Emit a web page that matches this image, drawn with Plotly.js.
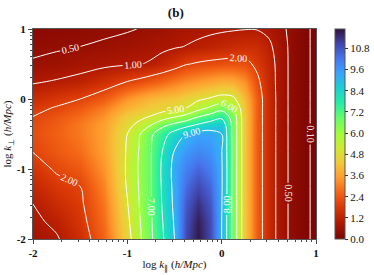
<!DOCTYPE html>
<html>
<head>
<meta charset="utf-8">
<script src="https://cdn.plot.ly/plotly-3.0.1.min.js"></script>
<style>html,body{margin:0;padding:0;background:#fff;}#chart{width:374px;height:275px;}</style>
</head>
<body>
<div id="chart"></div>
<script>
// log k_parallel (x) and log k_perp (y) sample positions
var logKpar = [-2, -1.75, -1.5, -1.25, -1, -0.875, -0.75, -0.625, -0.5, -0.375, -0.25, -0.125, 0, 0.125, 0.25, 0.375, 0.5, 0.625, 0.75, 0.875, 1];
var logKperp = [-2, -1.75, -1.5, -1.25, -1, -0.75, -0.5, -0.375, -0.25, -0.125, 0, 0.25, 0.5, 0.75, 1];

// values, one row per log k_perp
var row_m2_00 = [0.70, 0.93, 1.50, 2.60, 4.60, 5.80, 6.85, 7.90, 9.00, 11.0, 11.8, 11.0, 9.00, 6.65, 4.30, 2.50, 1.40, 0.72, 0.37, 0.15, 0.05];
var row_m1_75 = [0.85, 1.15, 1.70, 2.75, 4.80, 5.90, 6.90, 8.00, 9.10, 10.9, 11.7, 11.0, 9.00, 6.65, 4.30, 2.50, 1.40, 0.72, 0.37, 0.15, 0.05];
var row_m1_50 = [1.00, 1.45, 1.85, 2.90, 4.95, 6.00, 6.95, 8.10, 9.20, 10.7, 11.4, 10.8, 9.05, 6.65, 4.30, 2.50, 1.40, 0.72, 0.37, 0.15, 0.05];
var row_m1_25 = [1.30, 1.75, 2.00, 3.10, 5.10, 6.05, 6.95, 8.15, 9.25, 10.4, 11.0, 10.5, 9.10, 6.65, 4.30, 2.50, 1.40, 0.72, 0.37, 0.15, 0.05];
var row_m1_00 = [1.65, 2.10, 2.40, 3.35, 5.15, 6.10, 6.95, 8.20, 9.30, 10.0, 10.5, 10.1, 9.10, 6.65, 4.30, 2.50, 1.40, 0.72, 0.37, 0.15, 0.05];
var row_m0_75 = [2.02, 2.40, 2.75, 3.55, 5.10, 6.05, 6.95, 8.05, 9.05, 9.60, 9.90, 9.70, 9.05, 6.65, 4.30, 2.50, 1.40, 0.72, 0.37, 0.15, 0.05];
var row_m0_50 = [2.20, 2.55, 2.95, 3.60, 5.00, 5.90, 6.85, 7.60, 8.40, 9.00, 9.35, 9.35, 9.00, 6.65, 4.30, 2.50, 1.40, 0.72, 0.37, 0.15, 0.05];
var row_m0_375 = [2.15, 2.50, 2.95, 3.55, 4.75, 5.25, 6.00, 6.80, 7.30, 7.75, 8.15, 8.50, 8.70, 6.65, 4.30, 2.50, 1.40, 0.72, 0.37, 0.15, 0.05];
var row_m0_25 = [2.00, 2.35, 2.75, 3.35, 4.45, 4.75, 5.05, 5.50, 5.90, 6.30, 6.95, 7.35, 7.75, 6.55, 4.30, 2.50, 1.40, 0.72, 0.37, 0.15, 0.05];
var row_m0_125 = [1.80, 2.05, 2.40, 3.00, 3.90, 4.15, 4.40, 4.55, 4.75, 5.00, 5.60, 6.10, 6.60, 6.00, 4.20, 2.50, 1.40, 0.72, 0.37, 0.15, 0.05];
var row_p0_00 = [1.45, 1.75, 2.00, 2.45, 3.35, 3.70, 4.00, 4.15, 4.30, 4.60, 4.85, 5.10, 5.35, 5.20, 4.00, 2.50, 1.40, 0.72, 0.37, 0.15, 0.05];
var row_p0_25 = [0.93, 1.05, 1.20, 1.55, 2.00, 2.20, 2.45, 2.70, 3.00, 3.25, 3.45, 3.65, 3.85, 3.80, 3.30, 2.20, 1.35, 0.72, 0.37, 0.15, 0.05];
var row_p0_50 = [0.55, 0.62, 0.75, 0.85, 0.93, 0.97, 1.07, 1.30, 1.60, 1.95, 2.10, 2.20, 2.27, 2.30, 2.25, 1.80, 1.30, 0.72, 0.37, 0.15, 0.05];
var row_p0_75 = [0.40, 0.45, 0.50, 0.57, 0.66, 0.72, 0.78, 0.85, 0.93, 1.02, 1.12, 1.22, 1.32, 1.42, 1.50, 1.48, 1.12, 0.70, 0.37, 0.15, 0.05];
var row_p1_00 = [0.27, 0.31, 0.35, 0.40, 0.46, 0.51, 0.57, 0.64, 0.72, 0.78, 0.83, 0.88, 0.92, 0.95, 0.98, 0.97, 0.86, 0.62, 0.36, 0.15, 0.05];

var zRows = [row_m2_00, row_m1_75, row_m1_50, row_m1_25, row_m1_00, row_m0_75, row_m0_50, row_m0_375, row_m0_25, row_m0_125, row_p0_00, row_p0_25, row_p0_50, row_p0_75, row_p1_00];

var lineLevelsSingle = [0.1, 0.5, 1, 2];
var lineLevelsStart = 5, lineLevelsEnd = 9;
var cbTicks = [0, 1.2, 2.4, 3.6, 4.8, 6.0, 7.2, 8.4, 9.6, 10.8];
var axisTicks = [-2, -1, 0, 1];
var axisTickText = ['-2', '-1', '0', '1'];

// turbo colormap, reversed (high values dark blue/purple, low values dark red)
var turbo = [
  [0.00, '#30123b'], [0.07, '#4145ab'], [0.14, '#4675ed'], [0.21, '#39a2fc'],
  [0.28, '#1bcfd4'], [0.35, '#24eca6'], [0.42, '#61fc6c'], [0.50, '#a4fc3b'],
  [0.57, '#d1e834'], [0.64, '#f3c63a'], [0.71, '#fe9b2d'], [0.78, '#f36315'],
  [0.85, '#d93806'], [0.92, '#b11901'], [1.00, '#7a0403']
];
var turboR = turbo.slice().reverse().map(function (p) { return [1 - p[0], p[1]]; });

var minorTicks = [];
[-2, -1, 0].forEach(function (d) {
  for (var k = 2; k <= 9; k++) minorTicks.push(d + Math.log10(k));
});

var serif = '"Liberation Serif", "Times New Roman", serif';

var traces = [{
  type: 'contour',
  x: logKpar, y: logKperp, z: zRows,
  colorscale: turboR, zmin: 0, zmax: 11.9,
  contours: {coloring: 'heatmap', showlines: false},
  line: {width: 0},
  hoverinfo: 'skip',
  colorbar: {
    x: 1.067, xanchor: 'left', xref: 'paper', xpad: 0,
    y: 0.5, yanchor: 'middle', len: 1, lenmode: 'fraction', ypad: 0,
    thickness: 10, outlinecolor: '#555', outlinewidth: 1,
    tickvals: cbTicks, ticktext: cbTicks.map(function (v) { return v.toFixed(1); }),
    ticks: 'outside', ticklen: 3, tickcolor: '#333',
    tickfont: {family: serif, size: 11, color: '#111'}
  }
}];

function lineTrace(start, end, size) {
  return {
    type: 'contour', x: logKpar, y: logKperp, z: zRows,
    showscale: false, hoverinfo: 'skip',
    contours: {coloring: 'none', start: start, end: end, size: size,
      showlabels: true, labelformat: '.2f',
      labelfont: {family: serif, size: 10, color: 'white'}},
    line: {color: 'white', width: 1, smoothing: 1}
  };
}
lineLevelsSingle.forEach(function (lv) { traces.push(lineTrace(lv, lv, 10)); });
traces.push(lineTrace(lineLevelsStart, lineLevelsEnd, 1));

var axisCommon = {
  tickvals: axisTicks, ticktext: axisTickText,
  tickfont: {family: serif, size: 11, color: '#111', weight: 'bold'},
  ticks: 'outside', ticklen: 4, tickcolor: '#444', tickwidth: 1,
  showline: true, mirror: true, linecolor: '#555', linewidth: 1,
  showgrid: false, zeroline: false,
  minor: {tickvals: minorTicks, ticks: 'outside', ticklen: 2, tickcolor: '#444', showgrid: false}
};

var layout = {
  width: 374, height: 275,
  margin: {l: 33, r: 58, t: 29, b: 36, autoexpand: false},
  paper_bgcolor: 'white', plot_bgcolor: 'white',
  font: {family: serif, size: 11, color: '#111'},
  showlegend: false,
  title: {text: '<b>(b)</b>', x: 0.47, xanchor: 'center', xref: 'container',
    y: 0.955, yanchor: 'middle', yref: 'container', font: {family: serif, size: 13, color: '#111'}},
  xaxis: Object.assign({}, axisCommon, {range: [-2, 1],
    title: {text: 'log <i>k</i><sub>∥</sub> (<i>h/Mpc</i>)', standoff: 2, font: {family: serif, size: 11, color: '#111'}}}),
  yaxis: Object.assign({}, axisCommon, {range: [-2, 1],
    title: {text: 'log <i>k</i><sub>⊥</sub> (<i>h/Mpc</i>)', standoff: 2, font: {family: serif, size: 11, color: '#111'}}})
};

Plotly.newPlot('chart', traces, layout, {displayModeBar: false, staticPlot: true});
</script>
</body>
</html>
